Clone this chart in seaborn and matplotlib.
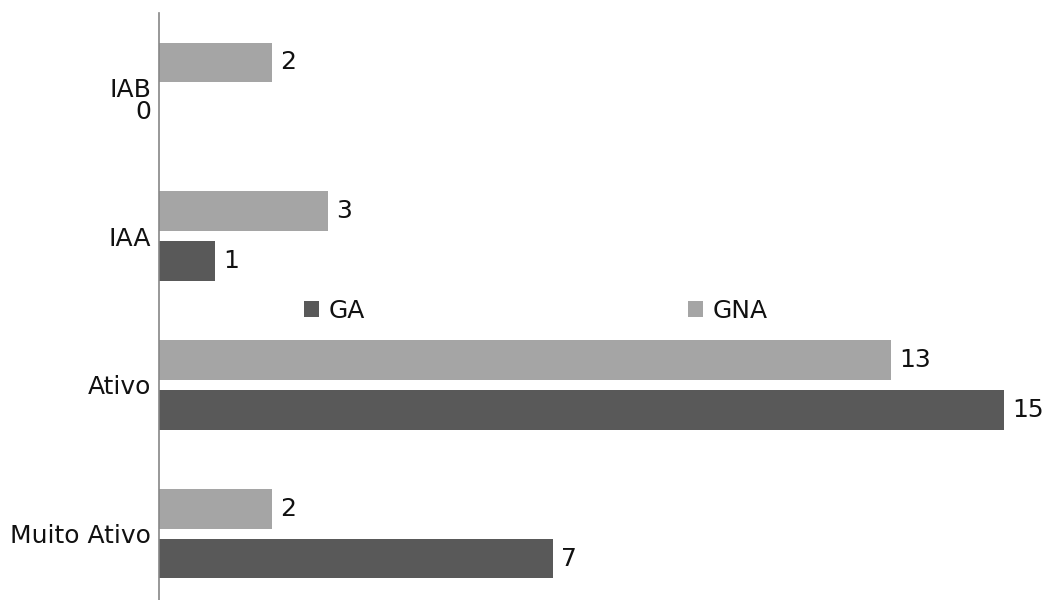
import matplotlib
matplotlib.use("Agg")
import matplotlib.pyplot as plt
import seaborn as sns
import pandas as pd
from matplotlib.patches import Patch

categories = ["IAB", "IAA", "Ativo", "Muito Ativo"]
ga_values = [0, 1, 15, 7]
gna_values = [2, 3, 13, 2]
series_names = ["GA", "GNA"]
colors = {"GA": "#595959", "GNA": "#a5a5a5"}

df = pd.DataFrame({
    "categoria": categories * 2,
    "valor": ga_values + gna_values,
    "grupo": ["GA"] * len(categories) + ["GNA"] * len(categories),
})

sns.set_style("white")
plt.rcParams["font.family"] = ["DejaVu Sans"]

fig = plt.figure(figsize=(10.47, 6.0), dpi=100)
ax = fig.add_axes([159 / 1047, -8 / 600, (1004 - 159) / 1047, 595 / 600])

sns.barplot(
    data=df, y="categoria", x="valor", hue="grupo",
    order=categories, hue_order=["GNA", "GA"], palette=colors,
    orient="h", width=0.672, gap=0.205, saturation=1,
    linewidth=0, legend=False, ax=ax,
)

ax.set_xlim(0, 15)
ax.set_ylim(3.5, -0.5)
ax.set_xlabel("")
ax.set_ylabel("")
ax.set_xticks([])
for s in ["top", "right", "bottom"]:
    ax.spines[s].set_visible(False)
ax.spines["left"].set_color("#868686")
ax.spines["left"].set_linewidth(1.2)
ax.tick_params(axis="y", length=0, pad=5.5, labelsize=18, labelcolor="#111111")

# value labels at the end of each bar
for container in ax.containers:
    for bar in container:
        v = bar.get_width()
        yc = bar.get_y() + bar.get_height() / 2
        if v == 0:
            ax.annotate("0", (0, yc), xytext=(-8, 0), textcoords="offset pixels",
                        ha="right", va="center", fontsize=18, color="#111111",
                        annotation_clip=False)
        else:
            ax.annotate(f"{v:g}", (v, yc), xytext=(8, 0), textcoords="offset pixels",
                        ha="left", va="center", fontsize=18, color="#111111",
                        annotation_clip=False)

handles = [Patch(facecolor=colors[n], edgecolor="none", label=n) for n in series_names]
fig.legend(handles=handles, loc="center", bbox_to_anchor=(0.512, 0.482), ncol=2,
           frameon=False, fontsize=18, handlelength=0.6, handleheight=0.6,
           handletextpad=0.4, columnspacing=12.9, labelcolor="#111111")

fig.savefig("out.png", dpi=100, facecolor="white")
